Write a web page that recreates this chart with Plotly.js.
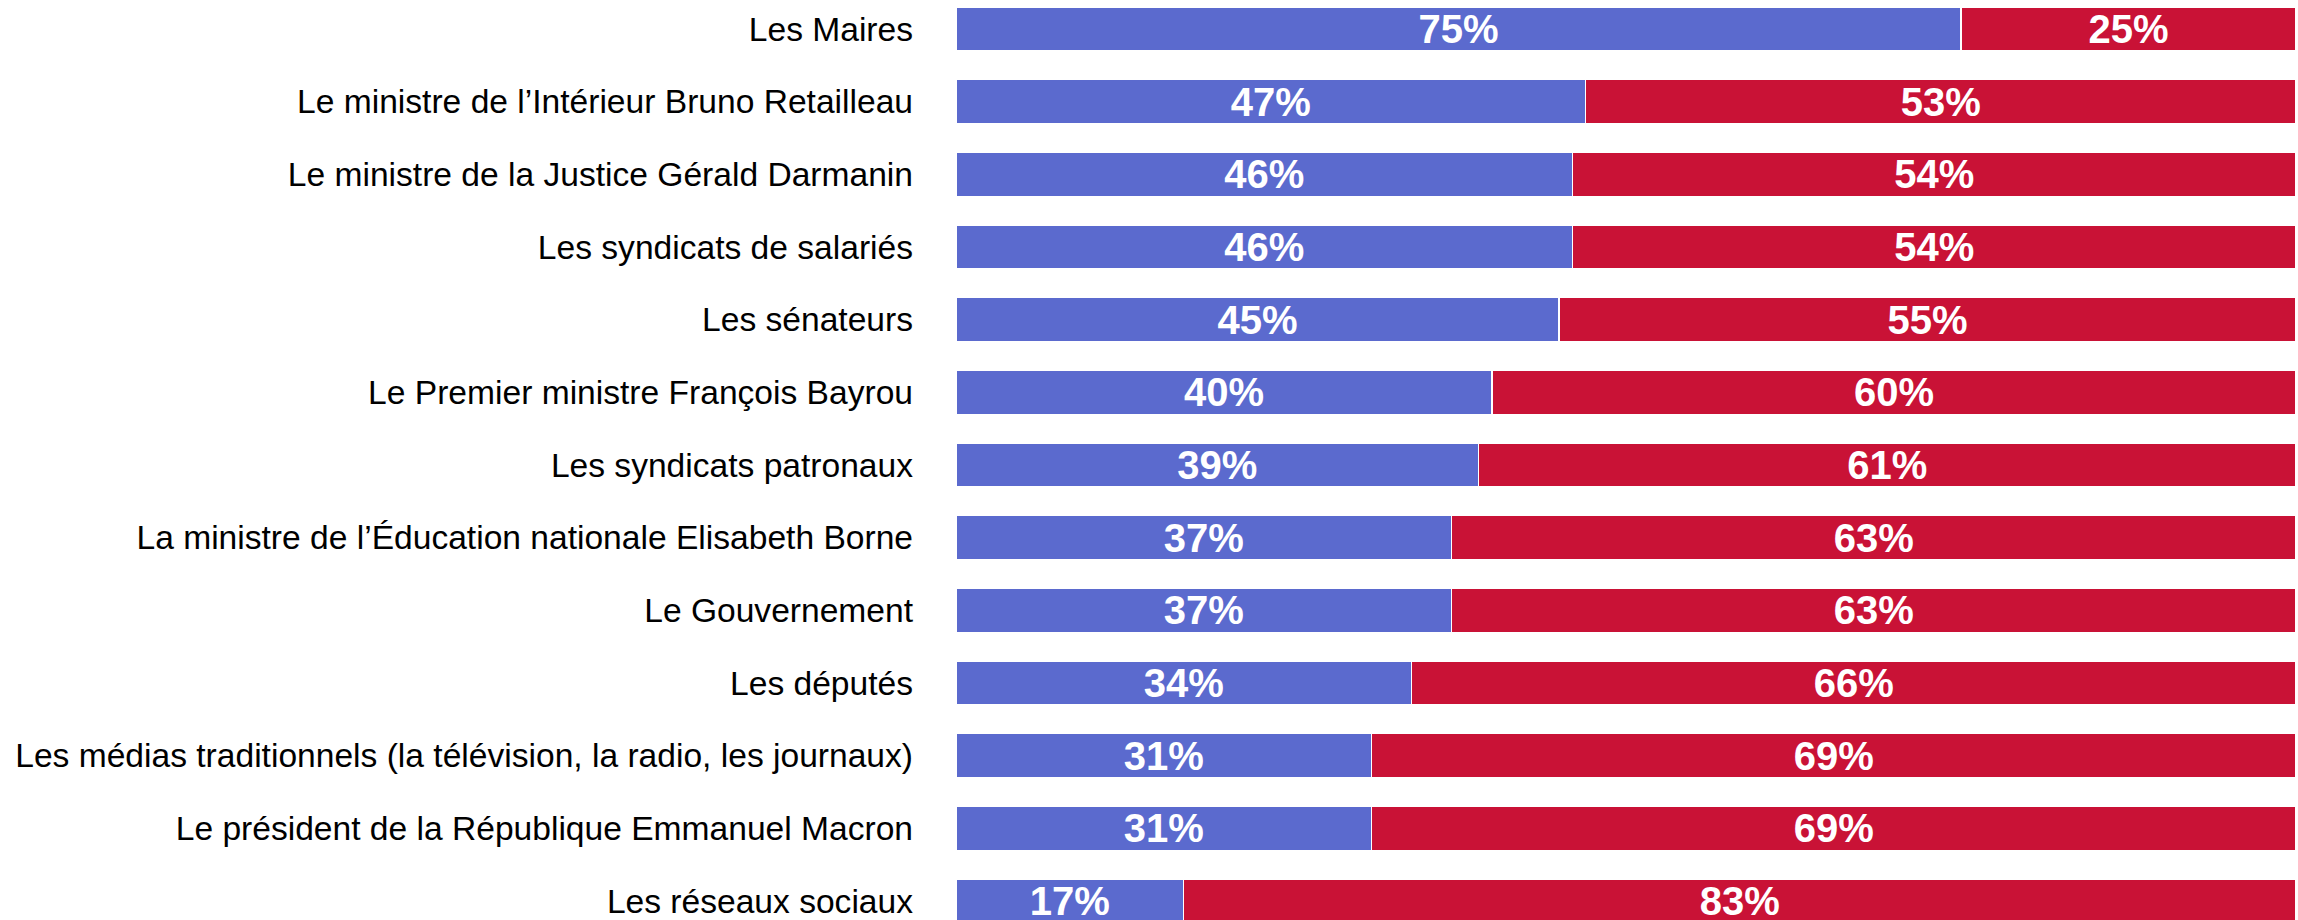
<!DOCTYPE html>
<html>
<head>
<meta charset="utf-8">
<script src="https://cdn.plot.ly/plotly-3.0.1.min.js"></script>
<style>
html,body{margin:0;padding:0;background:#fff;}
#chart{width:2298px;height:920px;}
</style>
</head>
<body>
<div id="chart"></div>
<script>
const categories = [
  "Les Maires",
  "Le ministre de l’Intérieur Bruno Retailleau",
  "Le ministre de la Justice Gérald Darmanin",
  "Les syndicats de salariés",
  "Les sénateurs",
  "Le Premier ministre François Bayrou",
  "Les syndicats patronaux",
  "La ministre de l’Éducation nationale Elisabeth Borne",
  "Le Gouvernement",
  "Les députés",
  "Les médias traditionnels (la télévision, la radio, les journaux)",
  "Le président de la République Emmanuel Macron",
  "Les réseaux sociaux"
];
const confiance = [75, 47, 46, 46, 45, 40, 39, 37, 37, 34, 31, 31, 17];
const pasConfiance = [25, 53, 54, 54, 55, 60, 61, 63, 63, 66, 69, 69, 83];

const commonText = {
  textposition: 'inside',
  insidetextanchor: 'middle',
  constraintext: 'none',
  textfont: {family: 'Liberation Sans, Arial, sans-serif', size: 40, color: '#ffffff', weight: 'bold'},
  hoverinfo: 'skip'
};

const traces = [
  Object.assign({
    type: 'bar', orientation: 'h', name: 'Confiance',
    y: categories, x: confiance,
    text: confiance.map(v => '<b>' + v + '%</b>'),
    texttemplate: '%{text}',
    marker: {color: '#5B6ACE', line: {color: '#ffffff', width: 1.2}}
  }, commonText),
  Object.assign({
    type: 'bar', orientation: 'h', name: 'Pas confiance',
    y: categories, x: pasConfiance,
    text: pasConfiance.map(v => '<b>' + v + '%</b>'),
    texttemplate: '%{text}',
    marker: {color: '#C91236', line: {color: '#ffffff', width: 1.2}}
  }, commonText)
];

const layout = {
  width: 2298, height: 920,
  margin: {l: 956, r: 2, t: 0, b: 0, pad: 0},
  barmode: 'stack',
  bargap: 0.395,
  showlegend: false,
  paper_bgcolor: '#ffffff',
  plot_bgcolor: '#ffffff',
  xaxis: {range: [0, 100], visible: false, fixedrange: true},
  yaxis: {
    type: 'category',
    range: [12.261, -0.399],
    showgrid: false, zeroline: false, showline: false,
    ticks: '',
    ticklabelstandoff: 42,
    tickfont: {family: 'Liberation Sans, Arial, sans-serif', size: 33.6, color: '#000000'}
  },
  font: {family: 'Liberation Sans, Arial, sans-serif'}
};

Plotly.newPlot('chart', traces, layout, {staticPlot: true, displayModeBar: false});
</script>
</body>
</html>
